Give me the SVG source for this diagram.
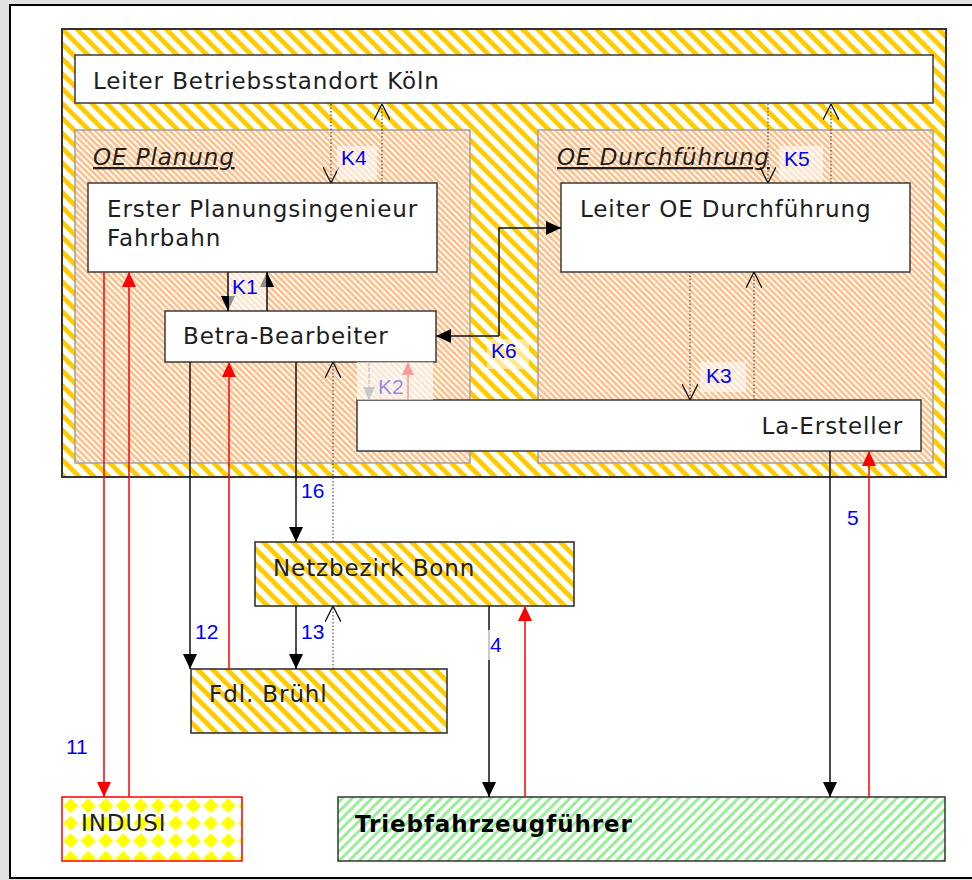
<svg xmlns="http://www.w3.org/2000/svg" width="972" height="880" viewBox="0 0 972 880">
<defs>
<style>
.t{font-family:"DejaVu Sans","Verdana",sans-serif;font-size:23px;letter-spacing:0.9px;fill:#1e1e1e}
.it{font-style:italic;text-decoration:underline}
.bd{font-weight:bold;fill:#000;letter-spacing:0.9px}
.lb{font-family:"Liberation Sans",Arial,sans-serif;font-size:21px;fill:#0000ff}
.box{fill:#fff;stroke:#3a3a3a;stroke-width:1.5}
.oe{fill:url(#pOrange);stroke:#a0a0a0;stroke-width:1.5}
.ys{fill:url(#pYellow);stroke:#333;stroke-width:1.6}
.solid{fill:none;stroke:#111;stroke-width:1.5}
.red{fill:none;stroke:#ff0000;stroke-width:1.5}
.dot{fill:none;stroke:#333;stroke-width:1;stroke-dasharray:1.5 2}
.glow{fill:#fff;opacity:0.55}
</style>
<pattern id="pYellow" width="10.5" height="10.5" patternUnits="userSpaceOnUse" patternTransform="rotate(-45)">
<rect width="10.5" height="10.5" fill="#fff"/><rect width="4.8" height="10.5" fill="#ffcc00"/>
</pattern>
<pattern id="pOrange" width="4.4" height="4.4" patternUnits="userSpaceOnUse" patternTransform="rotate(-45)">
<rect width="4.4" height="4.4" fill="#fff"/><rect width="2.6" height="4.4" fill="#ffc08a"/>
</pattern>
<pattern id="pGreen" width="7" height="7" patternUnits="userSpaceOnUse" patternTransform="rotate(45)">
<rect width="7" height="7" fill="#fff"/><rect width="3" height="7" fill="#99ee99"/>
</pattern>
<pattern id="pDiamond" width="17.5" height="17.5" patternUnits="userSpaceOnUse" x="62" y="797">
<rect width="17.5" height="17.5" fill="#fff"/>
<polygon points="8.75,1.2 16.3,8.75 8.75,16.3 1.2,8.75" fill="#ffff00"/>
</pattern>
<marker id="aB" viewBox="0 0 15 14" markerWidth="15" markerHeight="14" refX="15" refY="7" orient="auto" markerUnits="userSpaceOnUse">
<path d="M0,0 L15,7 L0,14 z" fill="#000"/>
</marker>
<marker id="aR" viewBox="0 0 15 14" markerWidth="15" markerHeight="14" refX="15" refY="7" orient="auto" markerUnits="userSpaceOnUse">
<path d="M0,0 L15,7 L0,14 z" fill="#ff0000"/>
</marker>
<marker id="aG" viewBox="0 0 13 12" markerWidth="13" markerHeight="12" refX="13" refY="6" orient="auto" markerUnits="userSpaceOnUse">
<path d="M0,0 L13,6 L0,12 z" fill="#777"/>
</marker>
<marker id="aRs" viewBox="0 0 13 12" markerWidth="13" markerHeight="12" refX="13" refY="6" orient="auto" markerUnits="userSpaceOnUse">
<path d="M0,0 L13,6 L0,12 z" fill="#ff0000"/>
</marker>
<marker id="aO" viewBox="0 0 16 16" markerWidth="16" markerHeight="16" refX="16" refY="8" orient="auto" markerUnits="userSpaceOnUse">
<path d="M0,0 L16,8 L0,16" fill="none" stroke="#111" stroke-width="1.3"/>
</marker>
</defs>

<rect x="0" y="0" width="972" height="880" fill="#e2e2e2"/>
<rect x="10" y="5" width="975" height="873" fill="#fff" stroke="#000" stroke-width="2"/>

<g id="container">
<rect x="62" y="29" width="884" height="448" fill="url(#pYellow)" stroke="#333" stroke-width="2"/>
</g>
<g id="oe-planung">
<rect class="oe" x="75" y="130" width="395" height="333"/>
<text class="t it" x="93" y="165">OE Planung</text>
</g>
<g id="oe-durchfuehrung">
<rect class="oe" x="538" y="130" width="395" height="333"/>
<text class="t it" x="557" y="165">OE Durchführung</text>
</g>
<g id="leiter-koeln">
<rect class="box" x="75" y="55" width="858" height="48"/>
<text class="t" x="93" y="89">Leiter Betriebsstandort Köln</text>
</g>
<g id="erster-planungsingenieur">
<rect class="box" x="88" y="183" width="349" height="89"/>
<text class="t" x="107" y="217">Erster Planungsingenieur</text>
<text class="t" x="107" y="246">Fahrbahn</text>
</g>
<g id="leiter-oe-durchfuehrung">
<rect class="box" x="561" y="183" width="349" height="89"/>
<text class="t" x="580" y="217">Leiter OE Durchführung</text>
</g>
<g id="betra-bearbeiter">
<rect class="box" x="165" y="311" width="271" height="51"/>
<text class="t" x="183" y="344">Betra-Bearbeiter</text>
</g>
<g id="la-ersteller">
<rect class="box" x="357" y="400" width="564" height="51"/>
<text class="t" x="903" y="434" text-anchor="end">La-Ersteller</text>
</g>
<g id="netzbezirk-bonn">
<rect class="ys" x="255" y="542" width="319" height="64"/>
<text class="t" x="273" y="576">Netzbezirk Bonn</text>
</g>
<g id="fdl-bruehl">
<rect class="ys" x="191" y="669" width="256" height="64"/>
<text class="t" x="209" y="702">Fdl. Brühl</text>
</g>
<g id="indusi">
<rect x="62" y="797" width="180" height="64" fill="url(#pDiamond)" stroke="#ff0000" stroke-width="1.5"/>
<text class="t" x="81" y="831">INDUSI</text>
</g>
<g id="triebfahrzeugfuehrer">
<rect x="338" y="797" width="607" height="64" fill="url(#pGreen)" stroke="#333" stroke-width="1.5"/>
<text class="t bd" x="355" y="832">Triebfahrzeugführer</text>
</g>

<g id="connectors">
<!-- K4 -->
<path class="dot" d="M331,104 V183" marker-end="url(#aO)"/>
<path class="dot" d="M382,183 V104" marker-end="url(#aO)"/>
<rect class="glow" x="337" y="146" width="40" height="34"/>
<text class="lb" x="341" y="165">K4</text>
<!-- K5 -->
<path class="dot" d="M768,104 V183" marker-end="url(#aO)"/>
<path class="dot" d="M831,183 V104" marker-end="url(#aO)"/>
<rect class="glow" x="779" y="146" width="44" height="34"/>
<text class="lb" x="784" y="166">K5</text>
<!-- K1 -->
<path class="solid" d="M228,272 V311" marker-end="url(#aB)"/>
<path class="solid" d="M267,311 V272" marker-end="url(#aB)"/>
<rect class="glow" x="229" y="273" width="37" height="37"/>
<text class="lb" x="232" y="294">K1</text>
<!-- K2 -->
<path d="M369,362 V400" fill="none" stroke="#666" stroke-width="1.3" stroke-dasharray="4 2" marker-end="url(#aG)"/>
<path class="red" d="M408,400 V362" marker-end="url(#aRs)"/>
<rect x="357" y="362" width="76" height="38" fill="#fff" opacity="0.6"/>
<text class="lb" x="378" y="394" fill-opacity="0.45">K2</text>
<!-- K6 -->
<path class="solid" d="M499,336 H436" marker-end="url(#aB)"/>
<path class="solid" d="M499,336 V228 H561" marker-end="url(#aB)"/>
<rect class="glow" x="487" y="339" width="42" height="30"/>
<text class="lb" x="491" y="358">K6</text>
<!-- K3 -->
<path class="dot" d="M690,272 V400" marker-end="url(#aO)"/>
<path class="dot" d="M754,400 V272" marker-end="url(#aO)"/>
<rect class="glow" x="700" y="362" width="46" height="30"/>
<text class="lb" x="706" y="383">K3</text>
<!-- 16 -->
<path class="solid" d="M296,362 V542" marker-end="url(#aB)"/>
<path class="dot" d="M333,542 V362" marker-end="url(#aO)"/>
<text class="lb" x="301" y="498">16</text>
<!-- 12 -->
<path class="solid" d="M190,362 V669" marker-end="url(#aB)"/>
<path class="red" d="M229,669 V362" marker-end="url(#aR)"/>
<text class="lb" x="195" y="639">12</text>
<!-- 13 -->
<path class="solid" d="M296,606 V669" marker-end="url(#aB)"/>
<path class="dot" d="M333,669 V606" marker-end="url(#aO)"/>
<text class="lb" x="301" y="639">13</text>
<!-- 4 -->
<path class="solid" d="M489,606 V797" marker-end="url(#aB)"/>
<path class="red" d="M525,797 V606" marker-end="url(#aR)"/>
<rect x="487" y="630" width="18" height="30" fill="#fff" opacity="0.7"/>
<text class="lb" x="490" y="652">4</text>
<!-- 5 -->
<path class="solid" d="M830,451 V797" marker-end="url(#aB)"/>
<path class="red" d="M869,797 V451" marker-end="url(#aR)"/>
<text class="lb" x="847" y="525">5</text>
<!-- 11 -->
<path class="red" d="M104,272 V797" marker-end="url(#aR)"/>
<path class="red" d="M129,797 V272" marker-end="url(#aR)"/>
<text class="lb" x="66" y="754">11</text>
</g>
</svg>
